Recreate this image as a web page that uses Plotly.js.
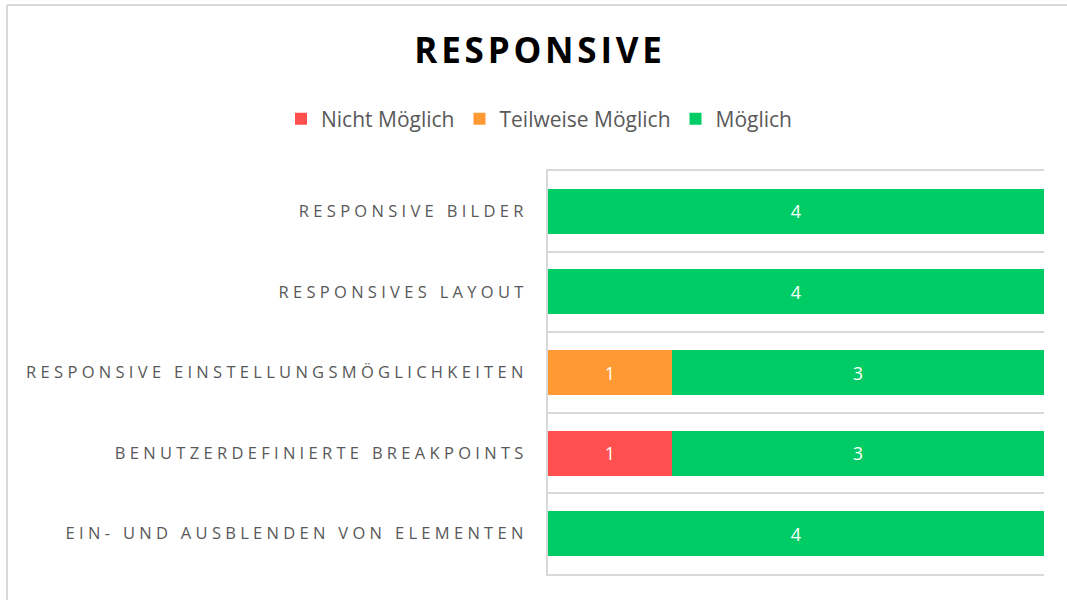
<!DOCTYPE html>
<html>
<head>
<meta charset="utf-8">
<script src="https://cdn.plot.ly/plotly-3.0.1.min.js"></script>
<style>
html,body{margin:0;padding:0;background:#fff;}
#chart{width:1067px;height:600px;}
.ytick text{letter-spacing:4.3px;}
.gtitle{letter-spacing:3.8px;}
</style>
</head>
<body>
<div id="chart"></div>
<script>
const categories = [
  "RESPONSIVE BILDER",
  "RESPONSIVES LAYOUT",
  "RESPONSIVE EINSTELLUNGSMÖGLICHKEITEN",
  "BENUTZERDEFINIERTE BREAKPOINTS",
  "EIN- UND AUSBLENDEN VON ELEMENTEN"
];
const nichtMoeglich = [null, null, null, 1, null];
const teilweiseMoeglich = [null, null, 1, null, null];
const moeglich = [4, 4, 3, 3, 4];
const seriesNames = ["Nicht Möglich", "Teilweise Möglich", "Möglich"];
const seriesColors = ["#FF5050", "#FF9933", "#00CC66"];

const FONT = "Open Sans, Noto Sans, DejaVu Sans, sans-serif";
const seriesData = [nichtMoeglich, teilweiseMoeglich, moeglich];

const traces = seriesData.map((vals, i) => ({
  type: "bar",
  orientation: "h",
  name: seriesNames[i],
  y: categories,
  x: vals,
  marker: {color: seriesColors[i], line: {width: 0}},
  text: vals.map(v => v == null ? "" : String(v)),
  textposition: "inside",
  insidetextanchor: "middle",
  textangle: 0,
  textfont: {family: FONT, size: 18, color: "#ffffff"},
  hoverinfo: "x+name"
}));

const W = 1067, H = 600;
const L = 548, R = 23, T = 171, B = 26;
const pw = W - L - R, ph = H - T - B;
const px = v => (v - L) / pw;
const py = v => (H - B - v) / ph;

const layout = {
  width: W, height: H,
  margin: {l: L, r: R, t: T, b: B, pad: 0},
  paper_bgcolor: "#ffffff",
  plot_bgcolor: "#ffffff",
  barmode: "stack",
  bargap: 0.44,
  showlegend: true,
  title: {
    text: "<b>RESPONSIVE</b>",
    font: {family: FONT, size: 35, color: "#000000"},
    x: 540 / W, xanchor: "center",
    y: 1 - 51 / H, yanchor: "middle"
  },
  legend: {
    orientation: "h",
    x: px(539), xanchor: "center",
    y: py(119), yanchor: "middle",
    font: {family: FONT, size: 21, color: "#595959"},
    traceorder: "normal",
    itemwidth: 30,
    itemsizing: "constant"
  },
  xaxis: {
    range: [0, 4],
    showgrid: false,
    showticklabels: false,
    zeroline: false,
    showline: true,
    mirror: true,
    linecolor: "#d9d9d9",
    linewidth: 2,
    ticks: "",
    fixedrange: true
  },
  yaxis: {
    type: "category",
    autorange: "reversed",
    tickson: "boundaries",
    showgrid: true,
    gridcolor: "#d9d9d9",
    gridwidth: 2,
    showline: true,
    linecolor: "#d9d9d9",
    linewidth: 2,
    ticks: "",
    ticklabelstandoff: 15,
    tickfont: {family: FONT, size: 16.5, color: "#595959"},
    fixedrange: true
  },
  shapes: [
    {type: "line", xref: "paper", yref: "paper", x0: px(7), x1: px(1100), y0: py(5), y1: py(5), line: {color: "#d9d9d9", width: 2}},
    {type: "line", xref: "paper", yref: "paper", x0: px(7), x1: px(7), y0: py(5), y1: py(640), line: {color: "#d9d9d9", width: 2}}
  ]
};

Plotly.newPlot("chart", traces, layout, {displayModeBar: false, staticPlot: false});
</script>
</body>
</html>
